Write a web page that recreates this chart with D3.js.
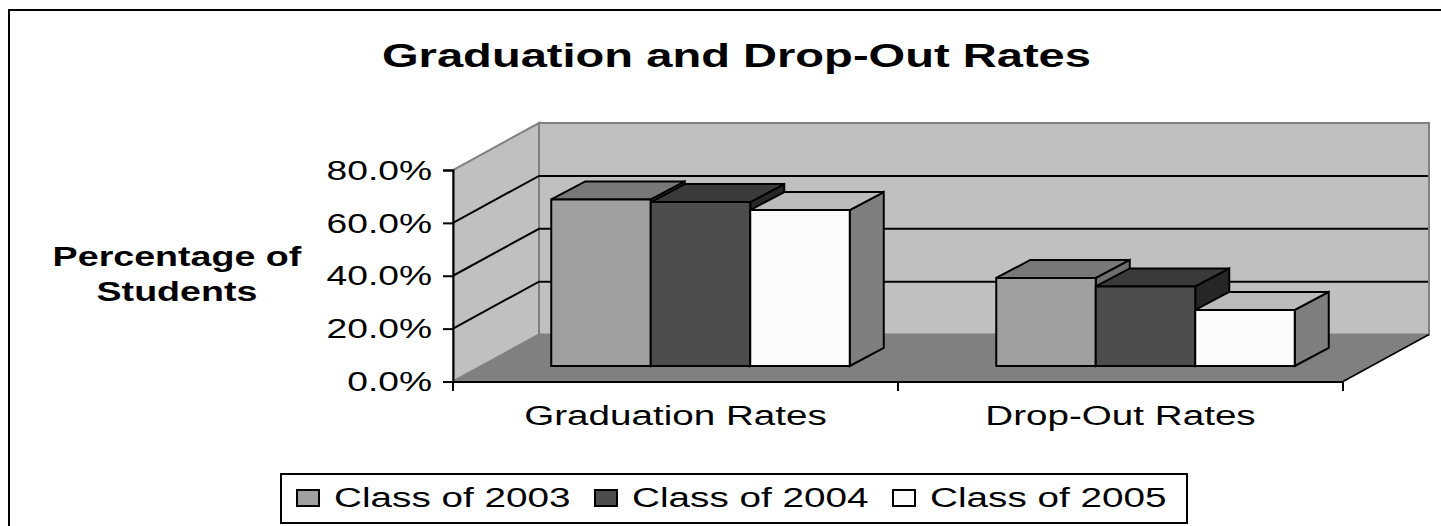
<!DOCTYPE html>
<html>
<head>
<meta charset="utf-8">
<script src="https://cdn.jsdelivr.net/npm/d3@7"></script>
<style>
  html, body { margin: 0; padding: 0; background: #fff; overflow: hidden; }
  text { font-family: "Liberation Sans", Arial, sans-serif; fill: #000; }
</style>
</head>
<body>
<svg id="chart" width="1441" height="526"></svg>
<script>
const categories = ['Graduation Rates', 'Drop-Out Rates'];
const seriesNames = ['Class of 2003', 'Class of 2004', 'Class of 2005'];
const class2003 = [63.0, 33.3];
const class2004 = [62.0, 30.1];
const class2005 = [59.0, 21.2];
const seriesValues = [class2003, class2004, class2005];
const yTicks = [0, 20, 40, 60, 80];
const yTitleLines = ['Percentage of', 'Students'];

const frontColors = ['#a0a0a0', '#4d4d4d', '#fbfbfb'];
const topColors = ['#787878', '#3a3a3a', '#bcbcbc'];
const sideColors = ['#6e6e6e', '#262626', '#7f7f7f'];

const svg = d3.select('#chart');

// oblique projection: how far the back wall sits from the front plane
const wallDx = 86;
const wallDy = -47;
// the bars stand a bit inside the floor and have their own depth
const barShiftX = 25;
const barShiftY = -15.5;
const barDx = 34;
const barDy = -18;
const lineWidth = 2;

const x = d3.scaleBand().domain(categories).range([453, 1343]);
const xSub = d3.scaleBand().domain(seriesNames).range([0, 298.5]);
const y = d3.scaleLinear().domain([0, 80]).range([381.5, 170]);

const poly = (pts) => d3.line()(pts) + 'Z';

// the text in the original is squashed, so widen each label after it is measured
function stretch(selection, k) {
  selection.each(function () {
    const w = this.getComputedTextLength();
    d3.select(this).attr('textLength', w * k).attr('lengthAdjust', 'spacingAndGlyphs');
  });
}

// frame, cut off by the image on the right and bottom
svg.append('path')
  .attr('d', 'M9,526V10H1441')
  .attr('fill', 'none')
  .attr('stroke', '#000')
  .attr('stroke-width', lineWidth);

svg.append('text')
  .attr('x', 736.5)
  .attr('y', 66.5)
  .attr('text-anchor', 'middle')
  .attr('font-size', 34)
  .attr('font-weight', 'bold')
  .text('Graduation and Drop-Out Rates')
  .call(stretch, 1.385);

// walls and floor
const x0 = x.range()[0];
const x1 = x.range()[1];
const y0 = y(0);
const yTop = y(80);

svg.append('path')
  .attr('d', poly([[x0 + wallDx, y0 + wallDy], [x1 + wallDx, y0 + wallDy], [x1 + wallDx, yTop + wallDy], [x0 + wallDx, yTop + wallDy]]))
  .attr('fill', '#c0c0c0')
  .attr('stroke', '#808080')
  .attr('stroke-width', lineWidth);

svg.append('path')
  .attr('d', poly([[x0, y0], [x0 + wallDx, y0 + wallDy], [x0 + wallDx, yTop + wallDy], [x0, yTop]]))
  .attr('fill', '#c0c0c0')
  .attr('stroke', '#808080')
  .attr('stroke-width', lineWidth);

svg.append('path')
  .attr('d', poly([[x0, y0], [x1, y0], [x1 + wallDx, y0 + wallDy], [x0 + wallDx, y0 + wallDy]]))
  .attr('fill', '#808080');

svg.append('line')
  .attr('x1', x1).attr('y1', y0)
  .attr('x2', x1 + wallDx).attr('y2', y0 + wallDy)
  .attr('stroke', '#000')
  .attr('stroke-width', 1.5);

// gridlines run along the side wall then along the back wall
svg.append('g')
  .selectAll('path')
  .data(yTicks.filter((t) => t > 0 && t < 80))
  .enter()
  .append('path')
  .attr('d', (t) => d3.line()([[x0, y(t)], [x0 + wallDx, y(t) + wallDy], [x1 + wallDx - 1, y(t) + wallDy]]))
  .attr('fill', 'none')
  .attr('stroke', '#000')
  .attr('stroke-width', lineWidth);

// axes
const yAxis = d3.axisLeft(y)
  .tickValues(yTicks)
  .tickSize(10)
  .tickPadding(11)
  .tickFormat((d) => d.toFixed(1) + '%');

const yAxisG = svg.append('g').attr('transform', `translate(${x0},0)`).call(yAxis);
yAxisG.select('.domain').attr('stroke', '#000').attr('stroke-width', lineWidth);
yAxisG.selectAll('.tick line').attr('stroke', '#000').attr('stroke-width', lineWidth);
yAxisG.selectAll('text')
  .attr('font-size', 27)
  .attr('dy', '9.2px')
  .call(stretch, 1.377);
yAxisG.attr('font-family', null);

const xAxis = d3.axisBottom(x).tickValues([]).tickSize(0);
const xAxisG = svg.append('g').attr('transform', `translate(0,${y0})`).call(xAxis);
xAxisG.select('.domain').attr('stroke', '#000').attr('stroke-width', lineWidth);

// category boundary ticks, band edges rather than centres
const edges = categories.map((c) => x(c)).concat([x1]);
svg.append('g')
  .selectAll('line')
  .data(edges)
  .enter()
  .append('line')
  .attr('x1', (d) => d)
  .attr('x2', (d) => d)
  .attr('y1', y0)
  .attr('y2', y0 + 9.5)
  .attr('stroke', '#000')
  .attr('stroke-width', lineWidth);

svg.append('g')
  .selectAll('text')
  .data(categories)
  .enter()
  .append('text')
  .attr('x', (c) => x(c) + x.bandwidth() / 2)
  .attr('y', 425)
  .attr('text-anchor', 'middle')
  .attr('font-size', 27)
  .text((c) => c)
  .call(stretch, 1.43);

// bars, painted left to right so later ones cover earlier sides
const groupStart = (c) => x(c) + (x.bandwidth() - xSub.range()[1]) / 2 + barShiftX;
const baseY = y(0) + barShiftY;

categories.forEach((cat, ci) => {
  const g = svg.append('g').attr('class', 'bar-group');
  seriesNames.forEach((name, si) => {
    const left = groupStart(cat) + xSub(name);
    const right = left + xSub.bandwidth();
    const top = baseY - (y(0) - y(seriesValues[si][ci]));

    g.append('path')
      .attr('d', poly([[right, baseY], [right + barDx, baseY + barDy], [right + barDx, top + barDy], [right, top]]))
      .attr('fill', sideColors[si]);
    g.append('path')
      .attr('d', poly([[left, top], [right, top], [right + barDx, top + barDy], [left + barDx, top + barDy]]))
      .attr('fill', topColors[si]);
    g.append('path')
      .attr('d', poly([[left, top], [right, top], [right, baseY], [left, baseY]]))
      .attr('fill', frontColors[si]);
    g.selectAll('path')
      .attr('stroke', '#000')
      .attr('stroke-width', lineWidth)
      .attr('stroke-linejoin', 'miter');
  });
});

// y axis title
svg.append('g')
  .selectAll('text')
  .data(yTitleLines)
  .enter()
  .append('text')
  .attr('x', 177)
  .attr('y', (d, i) => 266 + i * 34.5)
  .attr('text-anchor', 'middle')
  .attr('font-size', 27)
  .attr('font-weight', 'bold')
  .text((d) => d)
  .call(stretch, 1.393);

// legend
svg.append('rect')
  .attr('x', 281)
  .attr('y', 474)
  .attr('width', 906)
  .attr('height', 49)
  .attr('fill', '#fff')
  .attr('stroke', '#000')
  .attr('stroke-width', lineWidth);

const legendX = d3.scalePoint().domain(seriesNames).range([297, 893]);

const legendItems = svg.append('g')
  .selectAll('g')
  .data(seriesNames)
  .enter()
  .append('g')
  .attr('transform', (d) => `translate(${legendX(d)},0)`);

legendItems.append('rect')
  .attr('x', 0)
  .attr('y', 490)
  .attr('width', 22)
  .attr('height', 16)
  .attr('fill', (d, i) => frontColors[i])
  .attr('stroke', '#000')
  .attr('stroke-width', lineWidth);

legendItems.append('text')
  .attr('x', 37)
  .attr('y', 506.5)
  .attr('font-size', 27)
  .text((d) => d)
  .call(stretch, 1.433);
</script>
</body>
</html>
